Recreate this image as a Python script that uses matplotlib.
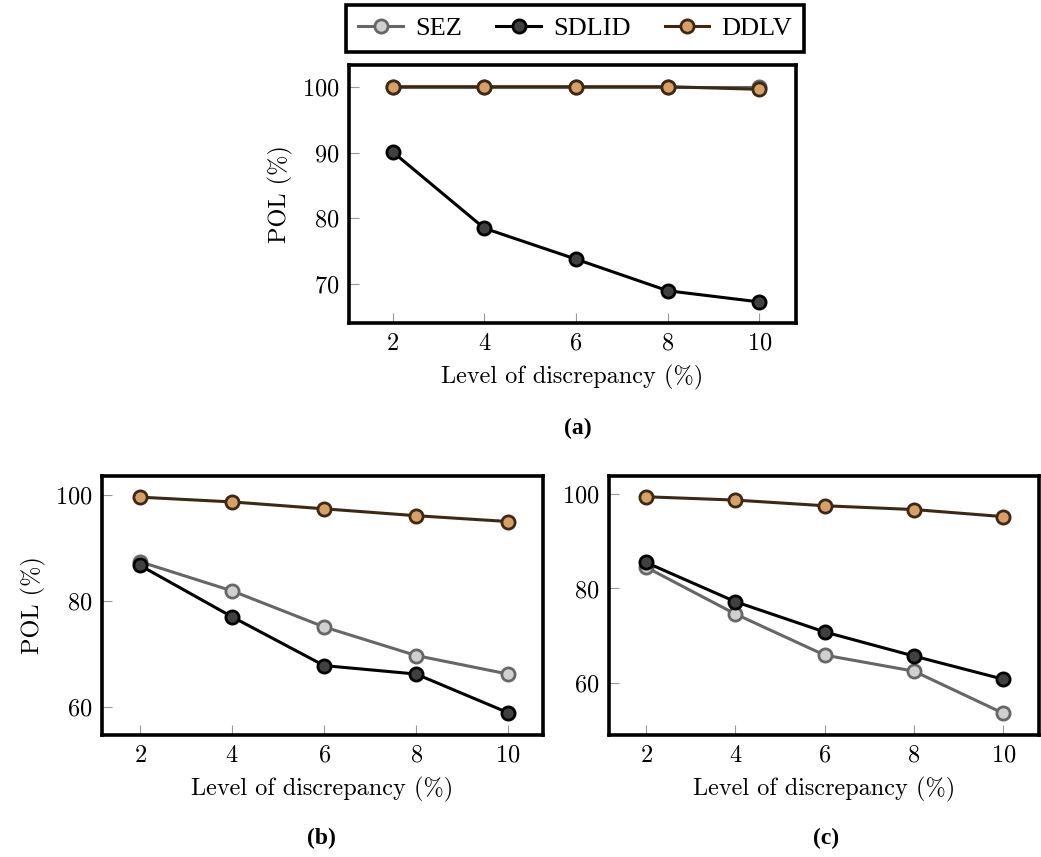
import matplotlib
matplotlib.use("Agg")
import matplotlib.pyplot as plt
from matplotlib.font_manager import FontProperties

# Data
levels = [2, 4, 6, 8, 10]

a_sez = [100.0, 100.0, 100.0, 100.0, 100.0]
a_sdlid = [90.1, 78.5, 73.8, 69.0, 67.3]
a_ddlv = [100.0, 100.0, 100.0, 100.0, 99.6]

b_sez = [87.4, 81.9, 75.1, 69.7, 66.2]
b_sdlid = [86.7, 77.0, 67.8, 66.2, 58.9]
b_ddlv = [99.6, 98.7, 97.4, 96.1, 95.0]

c_sez = [84.5, 74.6, 65.9, 62.5, 53.6]
c_sdlid = [85.5, 77.2, 70.8, 65.7, 60.8]
c_ddlv = [99.4, 98.7, 97.5, 96.7, 95.2]

series_names = ["SEZ", "SDLID", "DDLV"]
captions = ["(a)", "(b)", "(c)"]

plt.rcParams["font.family"] = "cmr10"
plt.rcParams["axes.formatter.use_mathtext"] = True
plt.rcParams["mathtext.fontset"] = "cm"

styles = {
    "SEZ": dict(color="#666666", markerfacecolor="#d0d0d0", markeredgecolor="#666666"),
    "SDLID": dict(color="black", markerfacecolor="#404040", markeredgecolor="black"),
    "DDLV": dict(color="#3d2814", markerfacecolor="#d9a066", markeredgecolor="#3d2814"),
}

times = FontProperties(family="Liberation Serif", size=19)
times_bold = FontProperties(family="Liberation Serif", weight="bold", size=17)

fig = plt.figure(figsize=(10.41, 8.57), dpi=100)

FS = 17.5


def draw(ax, sez, sdlid, ddlv, ylim, yticks, ylabel=True):
    lines = []
    for name, vals in zip(series_names, [sez, sdlid, ddlv]):
        ln, = ax.plot(levels, vals, marker="o", markersize=9.5, linewidth=2.2,
                      markeredgewidth=2.0, label=name, **styles[name])
        lines.append(ln)
    ax.set_xlim(1.05, 10.8)
    ax.set_ylim(*ylim)
    ax.set_xticks(levels)
    ax.set_yticks(yticks)
    ax.tick_params(direction="in", length=7, width=0.8, color="#999999",
                   labelsize=FS, pad=7, top=False, right=False)
    for s in ax.spines.values():
        s.set_linewidth(2.6)
    ax.set_xlabel("Level of discrepancy (%)", fontsize=FS, labelpad=7)
    if ylabel:
        ax.set_ylabel("POL (%)", fontsize=FS, labelpad=6)
    return lines


ax_a = fig.add_axes([0.3353, 0.6231, 0.4294, 0.3011])
lines = draw(ax_a, a_sez, a_sdlid, a_ddlv, (64.1, 103.3), [70, 80, 90, 100])

ax_b = fig.add_axes([0.098, 0.1424, 0.4236, 0.3022])
draw(ax_b, b_sez, b_sdlid, b_ddlv, (54.7, 103.6), [60, 80, 100])
ax_b.set_xlim(1.17, 10.76)

ax_c = fig.add_axes([0.585, 0.1424, 0.413, 0.3022])
draw(ax_c, c_sez, c_sdlid, c_ddlv, (49.0, 103.8), [60, 80, 100], ylabel=False)
ax_c.set_xlim(1.17, 10.8)

leg = fig.legend(lines, series_names, loc="center", bbox_to_anchor=(0.5525, 0.967),
                 ncol=3, frameon=True, fancybox=False, edgecolor="black",
                 framealpha=1, prop=times,
                 handlelength=1.7, columnspacing=1.3, handletextpad=0.45,
                 borderpad=0.45)
leg.get_frame().set_linewidth(2.6)

for cap, (x, y) in zip(captions, [(0.555, 0.5), (0.309, 0.022), (0.794, 0.022)]):
    fig.text(x, y, cap, ha="center", va="center", fontproperties=times_bold)

fig.savefig("out.png", dpi=100)
